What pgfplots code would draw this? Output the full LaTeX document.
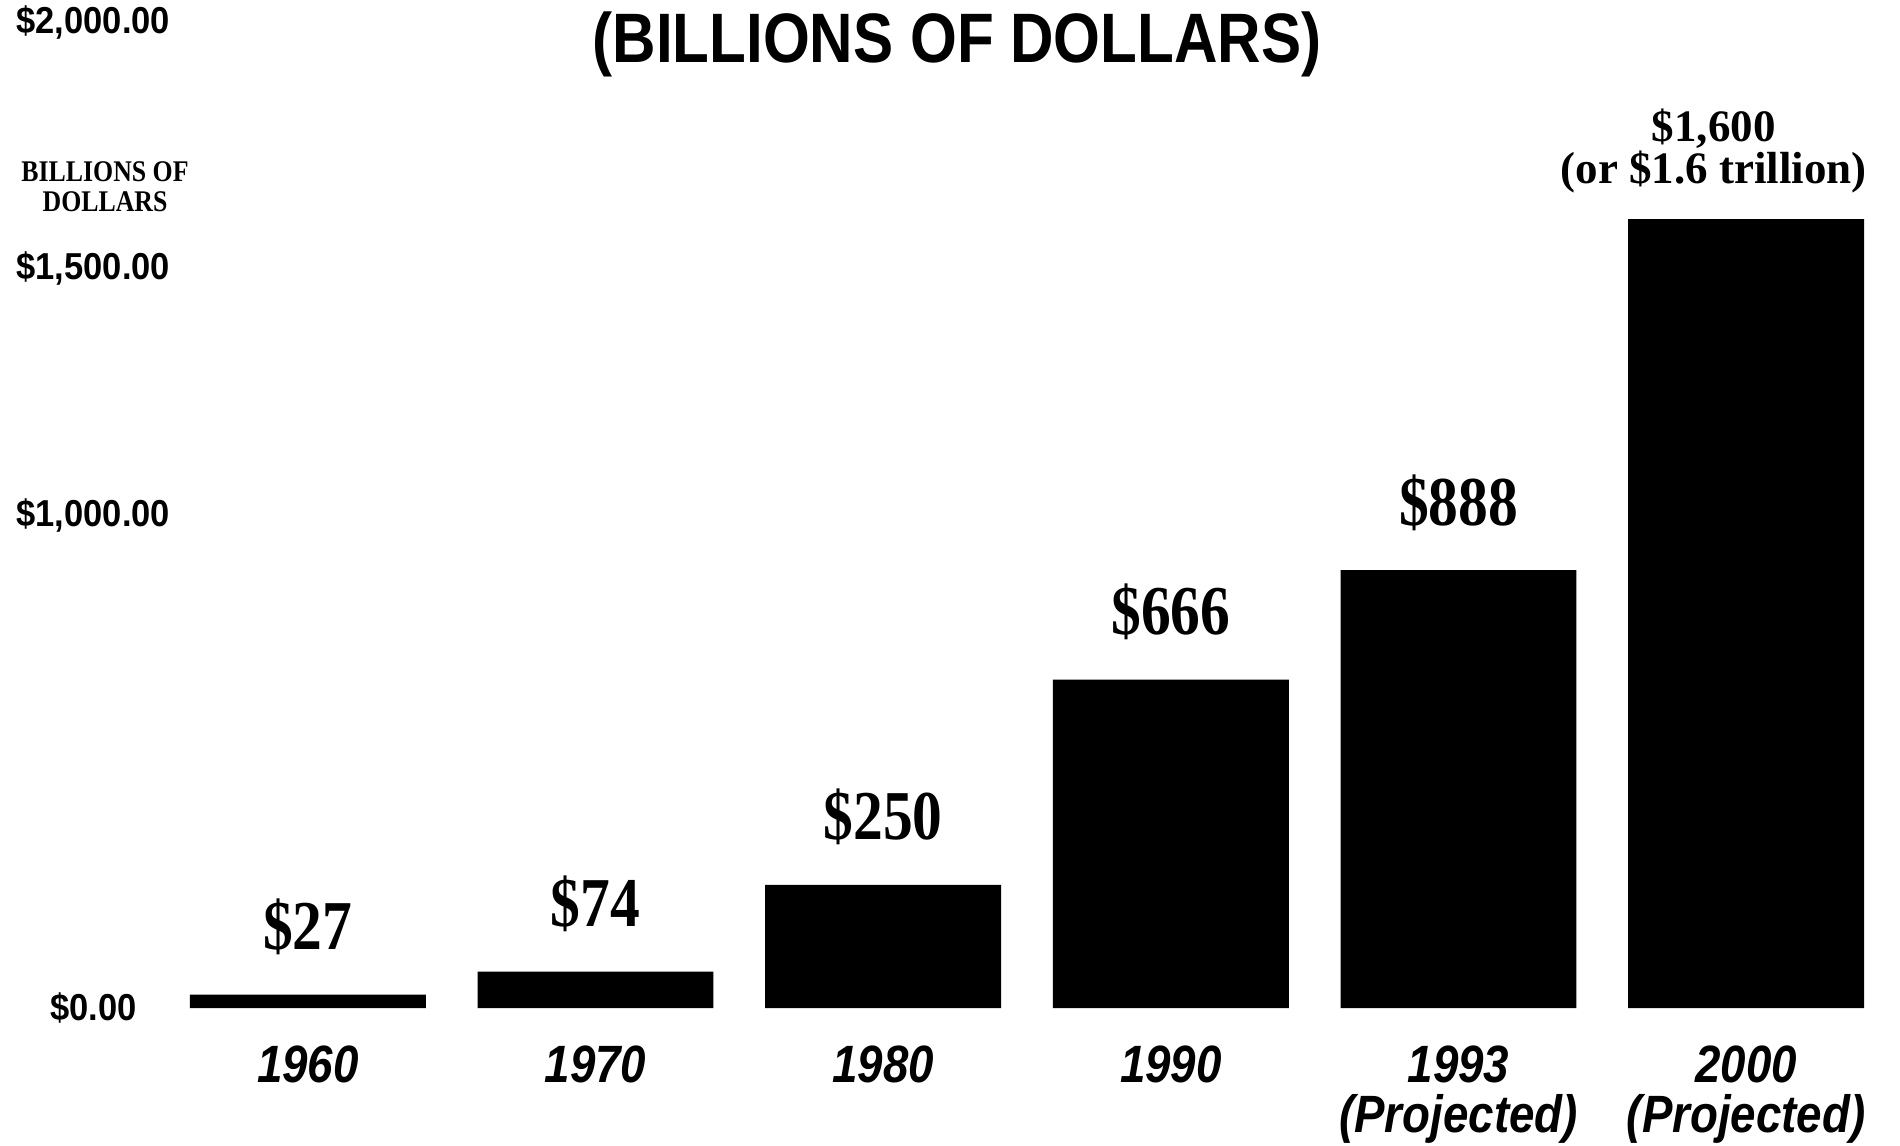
\documentclass[border=0pt]{standalone}
\usepackage{pgfplots}
\pgfplotsset{compat=1.18}
\usepackage{fontspec}
\setmainfont{Liberation Serif}
\newfontfamily\tickfont[FakeStretch=0.92]{Liberation Sans}
\newfontfamily\titlefont[FakeStretch=0.86]{Liberation Sans}
\newfontfamily\yearfont[FakeStretch=0.87]{Liberation Sans}
\newfontfamily\valfont[FakeStretch=0.85]{Liberation Serif}
\newfontfamily\notefont[FakeStretch=0.86]{Liberation Serif}
\newfontfamily\topfont{Liberation Serif}

\begin{document}
\begin{tikzpicture}
\useasboundingbox (0,0) rectangle (760pt,458pt);

% title, cut at the top of the scan
\node[anchor=base, inner sep=0pt, font=\titlefont\bfseries\fontsize{28}{30}\selectfont]
  at (382.8pt,432.8pt) {(BILLIONS OF DOLLARS)};
\node[anchor=base, inner sep=0pt, font=\notefont\bfseries\fontsize{12}{13}\selectfont]
  at (42pt,385.4pt) {BILLIONS OF};
\node[anchor=base, inner sep=0pt, font=\notefont\bfseries\fontsize{12}{13}\selectfont]
  at (42pt,373.4pt) {DOLLARS};

\begin{axis}[
    at={(65.6pt,54.8pt)}, anchor=south west,
    scale only axis, width=690.4pt, height=394.4pt,
    xmin=-0.5, xmax=5.5, ymin=0, ymax=2000,
    ybar, bar width=0.82,
    clip=false,
    axis line style={draw=none},
    tick style={draw=none},
    xtick={0,1,2,3,4,5},
    xticklabels={1960,1970,1980,1990,{1993\\(Projected)},{2000\\(Projected)}},
    xticklabel style={font=\yearfont\bfseries\itshape\fontsize{21}{20}\selectfont,
      align=center, anchor=north, inner sep=0pt, yshift=-10.5pt},
    ytick={0,1000,1500,2000},
    yticklabels={\$0.00,{\$1,000.00},{\$1,500.00},{\$2,000.00}},
    yticklabel style={font=\tickfont\bfseries\fontsize{15}{16}\selectfont,
      anchor=center, xshift=-28.3pt},
  ]
\addplot[fill=black, draw=none] coordinates {(0,27) (1,74) (2,250) (3,666) (4,888) (5,1600)};

\node[anchor=base, yshift=18pt, font=\valfont\bfseries\fontsize{28}{30}\selectfont] at (axis cs:0,27) {\$27};
\node[anchor=base, yshift=18pt, font=\valfont\bfseries\fontsize{28}{30}\selectfont] at (axis cs:1,74) {\$74};
\node[anchor=base, yshift=18pt, font=\valfont\bfseries\fontsize{28}{30}\selectfont] at (axis cs:2,250) {\$250};
\node[anchor=base, yshift=18pt, font=\valfont\bfseries\fontsize{28}{30}\selectfont] at (axis cs:3,666) {\$666};
\node[anchor=base, yshift=18pt, font=\valfont\bfseries\fontsize{28}{30}\selectfont] at (axis cs:4,888) {\$888};
\node[anchor=base, yshift=14.4pt, xshift=-13pt, font=\topfont\bfseries\fontsize{18}{19}\selectfont] at (axis cs:5,1600) {(or \$1.6 trillion)};
\node[anchor=base, yshift=31pt, xshift=-13pt, font=\topfont\bfseries\fontsize{18}{19}\selectfont] at (axis cs:5,1600) {\$1,600};
\end{axis}
\end{tikzpicture}
\end{document}
